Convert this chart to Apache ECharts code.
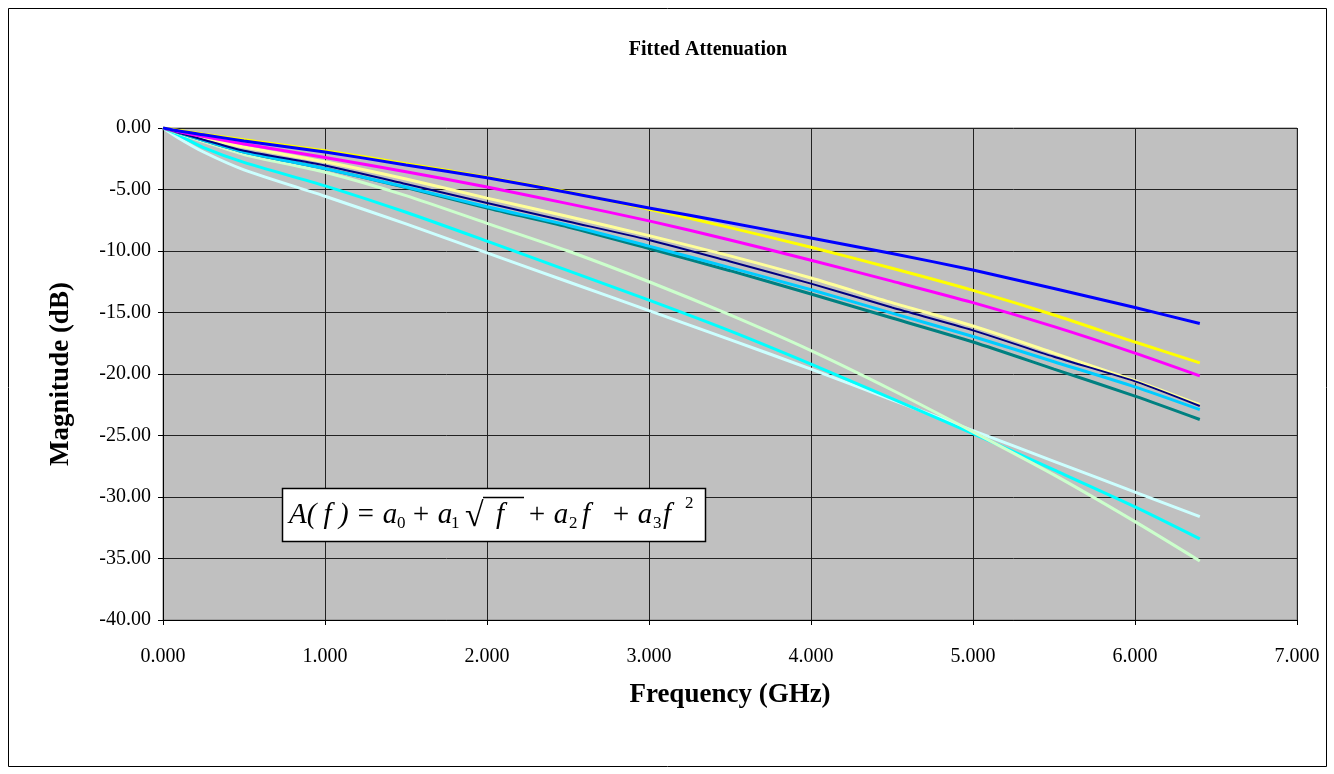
<!DOCTYPE html>
<html>
<head>
<meta charset="utf-8">
<script src="https://cdn.jsdelivr.net/npm/echarts@6/dist/echarts.min.js"></script>
<style>
html,body{margin:0;padding:0;background:#fff;}
#c{width:1334px;height:774px;}
</style>
</head>
<body>
<div id="c"></div>
<script>
// Frequency points (GHz)
const freqGHz = [0, 0.1, 0.25, 0.5, 1.0, 1.5, 2.0, 2.5, 3.0, 3.5, 4.0, 4.5, 5.0, 5.5, 6.0, 6.4];

// Magnitudes (dB)
const seriesBlue       = [0, -0.25, -0.55, -1.05, -1.95, -3.0, -4.05, -5.25, -6.5, -7.7, -8.95, -10.2, -11.55, -13.05, -14.6, -15.9];
const seriesYellow     = [0, -0.2, -0.5, -0.95, -1.85, -2.9, -4.0, -5.2, -6.6, -8.1, -9.7, -11.4, -13.2, -15.2, -17.4, -19.1];
const seriesMagenta    = [0, -0.3, -0.7, -1.3, -2.4, -3.55, -4.8, -6.15, -7.55, -9.1, -10.75, -12.45, -14.2, -16.15, -18.3, -20.15];
const seriesLightYellow= [0, -0.35, -0.8, -1.55, -2.75, -4.15, -5.7, -7.2, -8.75, -10.4, -12.2, -14.2, -16.1, -18.3, -20.55, -22.5];
const seriesNavy       = [0, -0.4, -0.95, -1.85, -3.05, -4.55, -6.1, -7.6, -9.1, -10.85, -12.65, -14.6, -16.45, -18.6, -20.6, -22.6];
const seriesSkyBlue    = [0, -0.4, -1.0, -1.95, -3.3, -4.8, -6.4, -7.9, -9.6, -11.35, -13.15, -15.05, -16.95, -19.0, -21.05, -22.9];
const seriesTeal       = [0, -0.4, -1.0, -1.95, -3.3, -4.85, -6.5, -8.05, -9.8, -11.6, -13.5, -15.45, -17.4, -19.6, -21.8, -23.7];
const seriesLightGreen = [0, -0.45, -1.1, -2.15, -3.6, -5.5, -7.75, -10.0, -12.5, -15.2, -18.1, -21.3, -24.7, -28.2, -32.0, -35.2];
const seriesCyan       = [0, -0.6, -1.6, -2.8, -4.7, -6.85, -9.2, -11.6, -14.0, -16.5, -19.2, -22.0, -24.85, -27.8, -30.8, -33.4];
const seriesLightCyan  = [0, -0.85, -1.95, -3.4, -5.55, -7.8, -10.15, -12.5, -14.85, -17.2, -19.6, -22.1, -24.6, -27.1, -29.6, -31.6];

const titleText = 'Fitted Attenuation';
const xName = 'Frequency (GHz)';
const yName = 'Magnitude (dB)';

const lines = [
  {name: 'S10', values: seriesLightCyan, color: '#CCFFFF', width: 3},
  {name: 'S9', values: seriesCyan, color: '#00FFFF', width: 3},
  {name: 'S8', values: seriesLightGreen, color: '#CCFFCC', width: 3},
  {name: 'S7', values: seriesTeal, color: '#008080', width: 3},
  {name: 'S6', values: seriesSkyBlue, color: '#00CCFF', width: 3},
  {name: 'S4', values: seriesLightYellow, color: '#FFFF99', width: 3},
  {name: 'S5', values: seriesNavy, color: '#000080', width: 2},
  {name: 'S3', values: seriesMagenta, color: '#FF00FF', width: 3},
  {name: 'S2', values: seriesYellow, color: '#FFFF00', width: 3},
  {name: 'S1', values: seriesBlue, color: '#0000FF', width: 3}
];

const serif = '"Liberation Serif", "Times New Roman", serif';
const chart = echarts.init(document.getElementById('c'), null, {renderer: 'canvas'});

const eqY = 515;
const eqMain = {fontFamily: serif, fontStyle: 'italic', fontSize: 29, fill: '#000', textVerticalAlign: 'middle'};
const eqSub = {fontFamily: serif, fontStyle: 'normal', fontSize: 17, fill: '#000', textVerticalAlign: 'middle'};
function t(x, y, text, st) {
  return {type: 'text', z: 101, x: x, y: y, style: Object.assign({text: text}, st)};
}

chart.setOption({
  animation: false,
  backgroundColor: '#ffffff',
  grid: {left: 163, right: 37, top: 128, bottom: 154, show: true, backgroundColor: '#C0C0C0', borderColor: '#808080', borderWidth: 1},
  xAxis: {
    type: 'value', min: 0, max: 7, interval: 1,
    name: xName, nameLocation: 'middle', nameGap: 62,
    nameTextStyle: {fontFamily: serif, fontWeight: 'bold', fontSize: 27, color: '#000'},
    axisLine: {show: true, onZero: false, lineStyle: {color: '#000', width: 1}},
    axisTick: {show: true, inside: false, length: 5, lineStyle: {color: '#000'}},
    axisLabel: {fontFamily: serif, fontSize: 20, color: '#000', margin: 27, formatter: v => v.toFixed(3)},
    splitLine: {show: true, lineStyle: {color: '#222', width: 1}}
  },
  yAxis: {
    type: 'value', min: -40, max: 0, interval: 5,
    name: yName, nameLocation: 'middle', nameGap: 88, nameRotate: 90,
    nameTextStyle: {fontFamily: serif, fontWeight: 'bold', fontSize: 27, color: '#000'},
    axisLine: {show: true, onZero: false, lineStyle: {color: '#000', width: 1}},
    axisTick: {show: true, inside: false, length: 5, lineStyle: {color: '#000'}},
    axisLabel: {fontFamily: serif, fontSize: 20, color: '#000', margin: 12, formatter: v => v.toFixed(2)},
    splitLine: {show: true, lineStyle: {color: '#222', width: 1}}
  },
  series: lines.map(s => ({
    type: 'line', name: s.name,
    data: freqGHz.map((f, i) => [f, s.values[i]]),
    showSymbol: false, smooth: 0.25,
    lineStyle: {color: s.color, width: s.width},
    itemStyle: {color: s.color},
    z: 3
  })),
  graphic: [
    {type: 'rect', z: 0, shape: {x: 8.5, y: 8.5, width: 1318, height: 758}, style: {fill: 'none', stroke: '#000', lineWidth: 1}},
    {type: 'text', z: 100, x: 708, y: 50, style: {text: titleText, fontFamily: serif, fontWeight: 'bold', fontSize: 20, fill: '#000', textAlign: 'center', textVerticalAlign: 'middle'}},
    {type: 'rect', z: 100, shape: {x: 282.5, y: 488.5, width: 423, height: 53}, style: {fill: '#fff', stroke: '#000', lineWidth: 1.5}},
    t(289, eqY, 'A( f ) = a', eqMain),
    t(397, eqY + 9, '0', eqSub),
    t(411, eqY, '+ a', eqMain),
    t(451, eqY + 9, '1', eqSub),
    t(465, eqY + 2, '√', Object.assign({}, eqMain, {fontStyle: 'normal', fontSize: 34})),
    {type: 'line', z: 101, shape: {x1: 483, y1: 497.5, x2: 524, y2: 497.5}, style: {stroke: '#000', lineWidth: 1.3}},
    t(496, eqY, 'f', eqMain),
    t(527, eqY, '+ a', eqMain),
    t(569, eqY + 9, '2', eqSub),
    t(582, eqY, 'f', eqMain),
    t(611, eqY, '+ a', eqMain),
    t(653, eqY + 9, '3', eqSub),
    t(663, eqY, 'f', eqMain),
    t(685, eqY - 11, '2', eqSub)
  ]
});
</script>
</body>
</html>
